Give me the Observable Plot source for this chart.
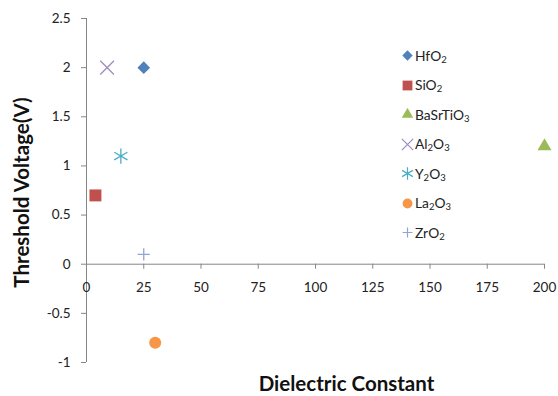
<!DOCTYPE html>
<html>
<head>
<meta charset="utf-8">
<script src="https://cdn.jsdelivr.net/npm/d3@7"></script>
<script src="https://cdn.jsdelivr.net/npm/@observablehq/plot@0.6"></script>
<style>
  html, body { margin: 0; padding: 0; background: #fff; }
  #wrap { position: relative; width: 558px; height: 396px; font-family: Lato, "Open Sans", sans-serif; }
  #legend { position: absolute; left: 401px; top: 41px; font-size: 13.8px; color: #222; }
  .row { height: 29.5px; display: flex; align-items: center; }
  .row svg { width: 13px; height: 13px; margin-right: 1px; }
  sub { font-size: 9.5px; vertical-align: -2px; }
</style>
</head>
<body>
<div id="wrap"></div>
<script>
// ---- data ----
const materials = ["HfO2", "SiO2", "BaSrTiO3", "Al2O3", "Y2O3", "La2O3", "ZrO2"];
const dielectric = [25, 3.9, 200, 9, 15, 30, 25];
const threshold = [2, 0.7, 1.2, 2, 1.1, -0.8, 0.1];
const xTicks = [0, 25, 50, 75, 100, 125, 150, 175, 200];
const yTicks = [-1, -0.5, 0, 0.5, 1, 1.5, 2, 2.5];
const xTitle = "Dielectric Constant";
const yTitle = "Threshold Voltage(V)";

// ---- styles ----
const colors = ["#4F81BD", "#C0504D", "#9BBB59", "#9E8CC0", "#4BACC6", "#F79646", "#8FA6D2"];
const symbols = ["diamond2", "square2", "triangle", "times", "asterisk", "circle", "plus"];
const filled = [true, true, true, false, false, true, false];
const radii = [5.7, 7.6, 5.2, 6.3, 7.2, 6, 4];

const rows = materials.map((m, i) => ({
  name: m, x: dielectric[i], y: threshold[i],
  color: colors[i], symbol: symbols[i], filled: filled[i], r: radii[i]
}));
const filledRows = rows.filter(d => d.filled);
const strokeRows = rows.filter(d => !d.filled);

const fmt = d => String(d).replace("\u2212", "-");
const axisColor = "#868686";

const chart = Plot.plot({
  width: 558,
  height: 396,
  marginLeft: 86,
  marginRight: 14,
  marginTop: 18,
  marginBottom: 34,
  style: { fontFamily: "Lato, 'Open Sans', sans-serif", background: "#fff" },
  x: { type: "linear", domain: [0, 200], axis: null },
  y: { type: "linear", domain: [-1, 2.5], axis: null },
  symbol: { type: "identity" },
  r: { type: "identity" },
  color: { type: "identity" },
  marks: [
    // y axis line, ticks, labels
    Plot.ruleX([0], { y1: -1, y2: 2.5, stroke: axisColor }),
    Plot.axisY(yTicks, { tickSize: 5, tickPadding: 11, stroke: axisColor, tickFormat: fmt, fontSize: 13.5, fill: "#222", label: null }),
    // x axis line at y=0 with ticks and labels
    Plot.ruleY([0], { x1: 0, x2: 200, stroke: axisColor }),
    Plot.ruleX(xTicks, { x: d => d, y1: 0, y2: 0, insetBottom: -5, stroke: axisColor }),
    Plot.text(xTicks, { x: d => d, y: 0, dy: 23, text: d => String(d), fontSize: 13.5, fill: "#222" }),
    // titles
    Plot.text([yTitle], { frameAnchor: "left", dx: -64, dy: 2, rotate: -90, textAnchor: "middle", lineAnchor: "middle", text: d => d, fontSize: 20.5, fontWeight: "bold", fill: "#111" }),
    Plot.text([xTitle], { frameAnchor: "bottom", dx: 31, dy: 22, textAnchor: "middle", lineAnchor: "middle", text: d => d, fontSize: 20.5, fontWeight: "bold", fill: "#111" }),
    // points
    Plot.dot(filledRows, { x: "x", y: "y", symbol: "symbol", r: "r", fill: "color", stroke: "none" }),
    Plot.dot(strokeRows, { x: "x", y: "y", symbol: "symbol", r: "r", stroke: "color", fill: "none", strokeWidth: 1.3 })
  ]
});

const wrap = document.getElementById("wrap");
wrap.appendChild(chart);

// ---- legend ----
const symMap = {
  diamond2: d3.symbolDiamond2, square2: d3.symbolSquare2, triangle: d3.symbolTriangle,
  times: d3.symbolTimes, asterisk: d3.symbolAsterisk, circle: d3.symbolCircle, plus: d3.symbolPlus
};
const legend = document.createElement("div");
legend.id = "legend";
rows.forEach((d, i) => {
  const row = document.createElement("div");
  row.className = "row";
  const size = Math.PI * Math.pow(d.r * 0.82, 2);
  const path = d3.symbol(symMap[d.symbol], size)();
  const style = d.filled ? `fill="${d.color}"` : `fill="none" stroke="${d.color}" stroke-width="1.2"`;
  row.innerHTML = `<svg viewBox="-6.5 -6.5 13 13"><path d="${path}" ${style}/></svg>` +
    `<span>${d.name.replace(/(\d+)/g, "<sub>$1</sub>")}</span>`;
  legend.appendChild(row);
});
wrap.appendChild(legend);
</script>
</body>
</html>
